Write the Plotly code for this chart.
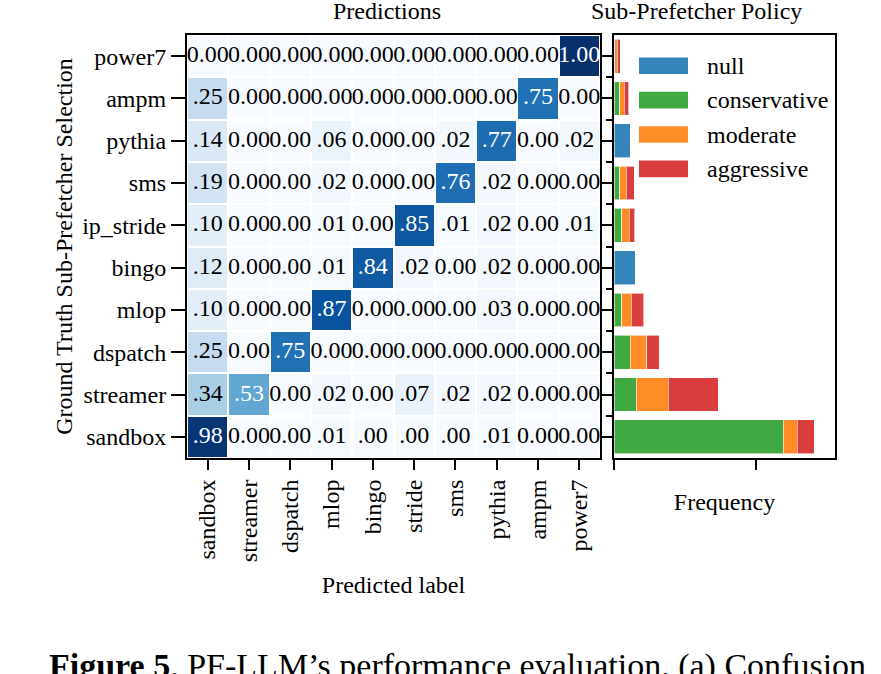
import plotly.graph_objects as go

# ---------------- data ----------------
pred_labels = ["sandbox", "streamer", "dspatch", "mlop", "bingo", "stride", "sms", "pythia", "ampm", "power7"]
true_labels = ["sandbox", "streamer", "dspatch", "mlop", "bingo", "ip_stride", "sms", "pythia", "ampm", "power7"]

# confusion rows (ground truth), columns follow pred_labels
row_sandbox   = [0.98, 0.00, 0.00, 0.01, 0.004, 0.004, 0.004, 0.01, 0.00, 0.00]
row_streamer  = [0.34, 0.53, 0.00, 0.02, 0.00, 0.07, 0.02, 0.02, 0.00, 0.00]
row_dspatch   = [0.25, 0.00, 0.75, 0.00, 0.00, 0.00, 0.00, 0.00, 0.00, 0.00]
row_mlop      = [0.10, 0.00, 0.00, 0.87, 0.00, 0.00, 0.00, 0.03, 0.00, 0.00]
row_bingo     = [0.12, 0.00, 0.00, 0.01, 0.84, 0.02, 0.00, 0.02, 0.00, 0.00]
row_ip_stride = [0.10, 0.00, 0.00, 0.01, 0.00, 0.85, 0.01, 0.02, 0.00, 0.01]
row_sms       = [0.19, 0.00, 0.00, 0.02, 0.00, 0.00, 0.76, 0.02, 0.00, 0.00]
row_pythia    = [0.14, 0.00, 0.00, 0.06, 0.00, 0.00, 0.02, 0.77, 0.00, 0.02]
row_ampm      = [0.25, 0.00, 0.00, 0.00, 0.00, 0.00, 0.00, 0.00, 0.75, 0.00]
row_power7    = [0.00, 0.00, 0.00, 0.00, 0.00, 0.00, 0.00, 0.00, 0.00, 1.00]

# sub-prefetcher policy frequency, following true_labels order
policy_null         = [0, 0, 0, 0, 153, 0, 0, 115, 0, 0]
policy_conservative = [1193, 157, 113, 54, 0, 54, 40, 0, 40, 5]
policy_moderate     = [97, 224, 118, 68, 0, 52, 47, 0, 33, 19]
policy_aggressive   = [120, 353, 87, 87, 0, 40, 54, 0, 30, 19]
freq_ticks = [0, 1000]

policy_names = ["null", "conservative", "moderate", "aggressive"]
policy_colors = ["#3585bc", "#41a941", "#ff8c26", "#da3d3e"]

caption = "<b>Figure 5</b>. PF-LLM’s performance evaluation. (a) Confusion"

# ---------------- figure ----------------
FONT = "Liberation Serif"
FS = 24
confusion = [row_sandbox, row_streamer, row_dspatch, row_mlop, row_bingo,
             row_ip_stride, row_sms, row_pythia, row_ampm, row_power7]


def fmt(v):
    if v == 0:
        return "0.00"
    if v >= 1:
        return "%.2f" % v
    return ("%.2f" % v)[1:]


fig = go.Figure()
fig.add_trace(go.Heatmap(
    z=confusion, x=pred_labels, y=true_labels,
    colorscale="Blues", zmin=0, zmax=1, showscale=False,
    xgap=2, ygap=2, hoverinfo="skip", xaxis="x", yaxis="y"))

tx, ty, tt, tc = [], [], [], []
for i, row in enumerate(confusion):
    for j, v in enumerate(row):
        tx.append(pred_labels[j]); ty.append(true_labels[i])
        tt.append(fmt(v)); tc.append("white" if v > 0.5 else "black")
fig.add_trace(go.Scatter(x=tx, y=ty, mode="text", text=tt,
                         textfont=dict(family=FONT, size=FS, color=tc),
                         hoverinfo="skip", showlegend=False, xaxis="x", yaxis="y"))

ypos = list(range(len(true_labels)))
for name, vals, col in zip(policy_names,
                           [policy_null, policy_conservative, policy_moderate, policy_aggressive],
                           policy_colors):
    fig.add_trace(go.Bar(y=ypos, x=vals, orientation="h", name=name, width=0.8,
                         marker=dict(color=col, line=dict(color="rgba(255,255,255,0.6)", width=1)),
                         xaxis="x2", yaxis="y2", showlegend=False))

# custom legend
for k, (name, col) in enumerate(zip(policy_names, policy_colors)):
    yc = 65.7 + k * 34.4
    fig.add_shape(type="rect", xref="paper", yref="paper",
                  x0=(639 - 187) / 648, x1=(688 - 187) / 648,
                  y0=(458 - (yc - 8.3)) / 423, y1=(458 - (yc + 8.3)) / 423,
                  fillcolor=col, line=dict(width=0))
    fig.add_annotation(text=name, xref="paper", yref="paper",
                       x=(705 - 187) / 648, y=(458 - yc) / 423,
                       xanchor="left", yanchor="middle", showarrow=False,
                       font=dict(family=FONT, size=FS, color="black"))

ax_common = dict(showline=True, linewidth=2, linecolor="black", mirror=True,
                 ticks="outside", tickwidth=1.5, tickcolor="black",
                 tickfont=dict(family=FONT, size=FS, color="black"),
                 showgrid=False, zeroline=False)

fig.update_layout(
    width=881, height=674,
    margin=dict(l=187, r=46, t=35, b=216),
    plot_bgcolor="white", paper_bgcolor="white",
    barmode="stack", bargap=0.2,
    font=dict(family=FONT, size=FS, color="black"),
    xaxis=dict(domain=[0, 413 / 648], ticklen=10, tickangle=-90,
               title=dict(text="Predicted label", standoff=15,
                          font=dict(family=FONT, size=FS)), **ax_common),
    yaxis=dict(domain=[0, 1], ticklen=14,
               title=dict(text="Ground Truth Sub-Prefetcher Selection", standoff=3,
                          font=dict(family=FONT, size=FS)), **ax_common),
    xaxis2=dict(domain=[427 / 648, 1], anchor="y2", range=[0, 1557],
                tickvals=freq_ticks, showticklabels=False, ticklen=10,
                title=dict(text="Frequency", standoff=24,
                           font=dict(family=FONT, size=FS)), **ax_common),
    yaxis2=dict(domain=[0, 1], anchor="x2", range=[-0.5, len(true_labels) - 0.5],
                tickvals=ypos, showticklabels=False, ticklen=10,
                minor=dict(tickvals=[p + 0.5 for p in ypos[:-1]], ticks="outside",
                           ticklen=6, tickwidth=1.5, tickcolor="black"),
                **ax_common),
)

fig.add_annotation(text="Predictions", xref="paper", yref="paper",
                   x=(387 - 187) / 648, y=(458 - 11) / 423,
                   xanchor="center", yanchor="middle", showarrow=False,
                   font=dict(family=FONT, size=FS))
fig.add_annotation(text="Sub-Prefetcher Policy", xref="paper", yref="paper",
                   x=(696 - 187) / 648, y=(458 - 11) / 423,
                   xanchor="center", yanchor="middle", showarrow=False,
                   font=dict(family=FONT, size=FS))
fig.add_annotation(text=caption, xref="paper", yref="paper",
                   x=(47 - 187) / 648, y=(458 - 645) / 423,
                   xanchor="left", yanchor="top", showarrow=False,
                   font=dict(family=FONT, size=34))

fig.write_html("out.html")
